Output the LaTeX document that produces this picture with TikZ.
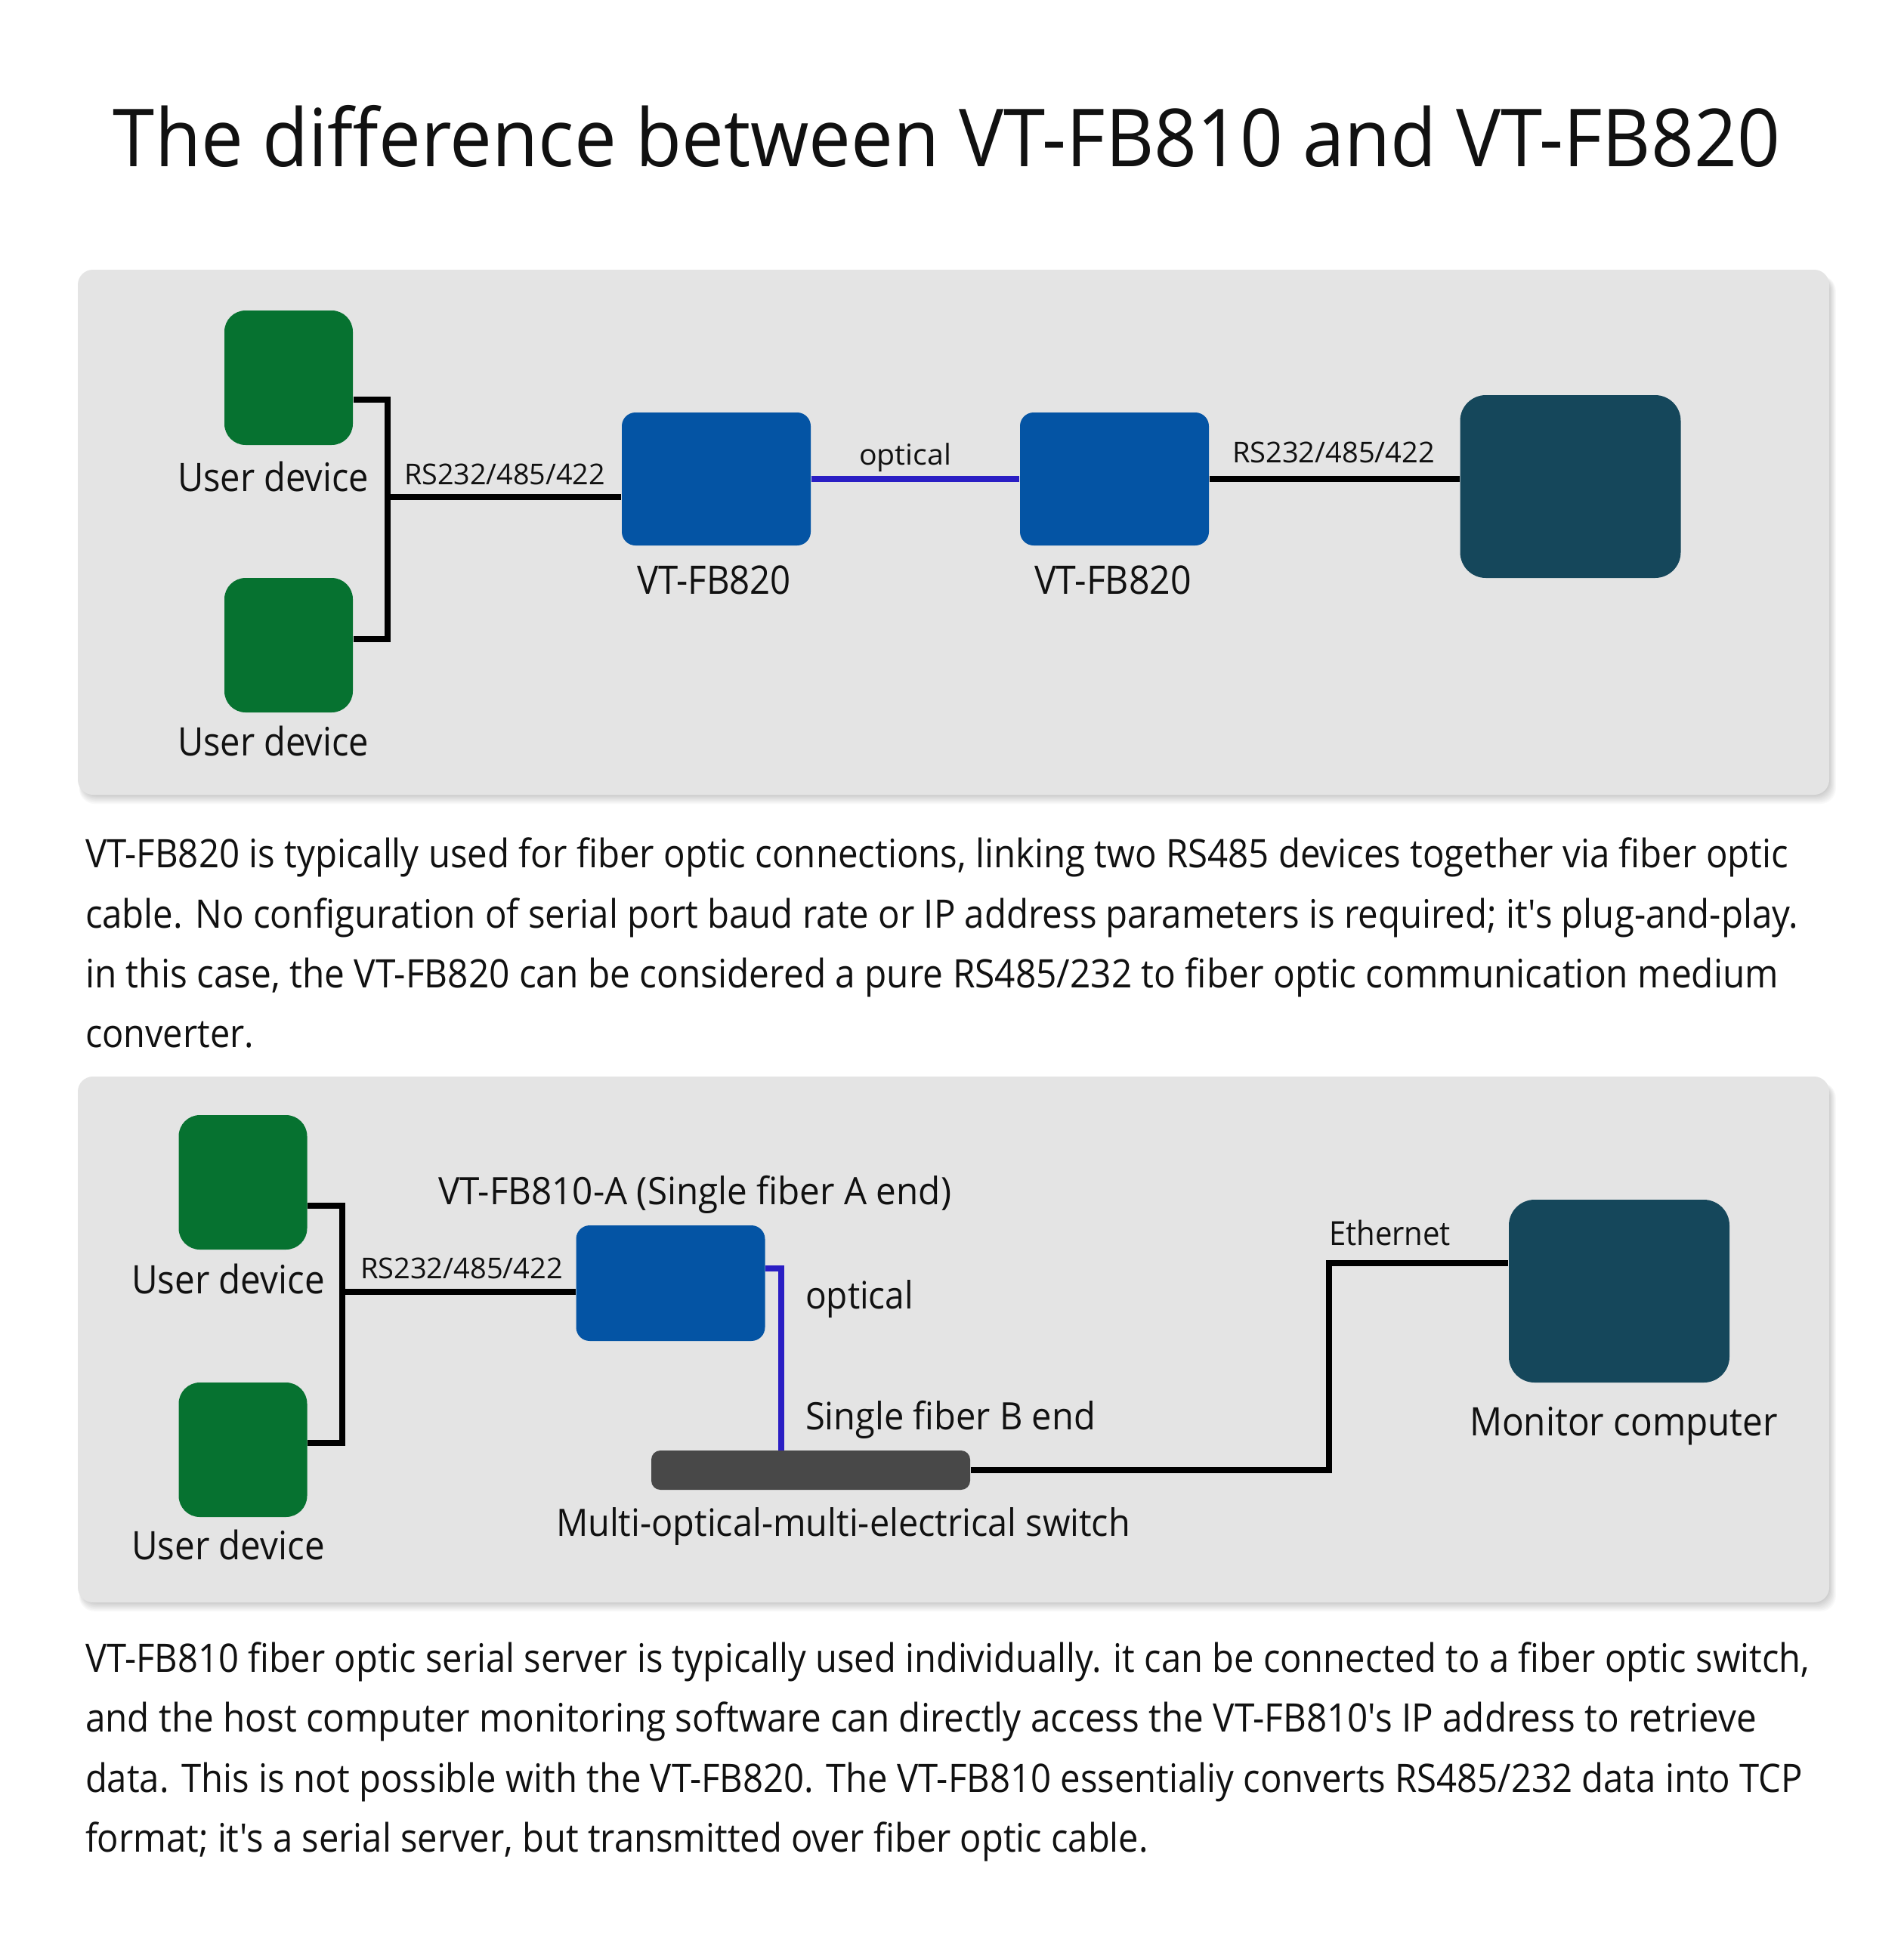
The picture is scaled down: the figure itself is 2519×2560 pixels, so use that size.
\documentclass[tikz,border=0pt]{standalone}
\usepackage{fontspec}
\usepackage{graphicx}
\usetikzlibrary{calc}
\newfontfamily\lab{Open Sans}[Ligatures=TeXOff]
\definecolor{devgreen}{RGB}{6,114,48}
\definecolor{convblue}{RGB}{4,84,164}
\definecolor{hostteal}{RGB}{21,71,91}
\definecolor{switchgray}{RGB}{72,72,72}
\definecolor{fibercol}{RGB}{42,30,196}
\definecolor{panelgray}{RGB}{228,228,228}
\definecolor{inkcol}{RGB}{17,17,17}
\newsavebox\fitbox
\newcommand\fitw[2]{\sbox\fitbox{#2}\pgfmathsetmacro\fitf{#1*0.25pt/\the\wd\fitbox}\scalebox{\fitf}[1]{\usebox\fitbox}}
\tikzset{
  dev/.style={fill=devgreen, rounded corners=7pt, minimum width=42.5pt, minimum height=44.5pt, inner sep=0pt},
  conv/.style={fill=convblue, rounded corners=4.5pt, minimum width=62.5pt, minimum height=44pt, inner sep=0pt},
  host/.style={fill=hostteal, rounded corners=8.5pt, minimum width=73pt, minimum height=60.5pt, inner sep=0pt},
  swbar/.style={fill=switchgray, rounded corners=3pt, minimum width=105.5pt, minimum height=13pt, inner sep=0pt},
  wire/.style={draw=black, line width=2pt},
  fiber/.style={draw=fibercol, line width=2pt},
  txt/.style={inner sep=0pt, outer sep=0pt, text=inkcol},
  ltitle/.style={txt, font=\lab\fontsize{26.5}{30}\selectfont},
  lbig/.style={txt, font=\lab\fontsize{13}{16}\selectfont},
  lmid/.style={txt, font=\lab\fontsize{12.5}{15}\selectfont},
  leth/.style={txt, font=\lab\fontsize{11}{13}\selectfont},
  lsmall/.style={txt, font=\lab\fontsize{9.5}{12}\selectfont},
  para/.style={txt, font=\lab\fontsize{13}{16}\selectfont, anchor=base west},
  panel/.style={fill=panelgray, rounded corners=5pt},
}
\begin{document}
\begin{tikzpicture}[x=0.25pt, y=-0.25pt]
\path[use as bounding box, fill=white] (0,0) rectangle (2519,2560);

% title
\node[ltitle, anchor=base] (title) at (1253,220) {\fitw{2206}{The difference between VT-FB810 and VT-FB820}};

% ---------- panel 1 ----------
\foreach \i in {1,...,8} {
  \fill[black, opacity=0.022, rounded corners=5pt] (103+5-\i*0.4, 357+8) rectangle (2421+\i*1.1, 1052+\i*1.5);
}
\path[panel] (103,357) rectangle (2421,1052);

\node[dev] (ud1) at (382,500) {};
\node[dev] (ud2) at (382,854) {};
\node[conv] (fbA) at (948,634) {};
\node[conv] (fbB) at (1475,634) {};
\node[host] (host1) at (2078.5,644) {};

\node[lbig, anchor=base] (lud1) at (361.5,650) {\fitw{253}{User device}};
\node[lbig, anchor=base] (lud2) at (361.5,1000) {\fitw{253}{User device}};
\node[lsmall, anchor=base] (rs1) at (668,641) {\fitw{266}{RS232/485/422}};
\node[lsmall, anchor=base] (opt1) at (1198,615) {\fitw{122}{optical}};
\node[lbig, anchor=base] (vtA) at (945,786) {\fitw{204}{VT-FB820}};
\node[lbig, anchor=base] (vtB) at (1473,786) {\fitw{208}{VT-FB820}};
\node[lsmall, anchor=base] (rs2) at (1765,612) {\fitw{268}{RS232/485/422}};

\coordinate (j1) at (513,658);
\draw[wire] ($(ud1.east)+(0,29)$) -| (j1) |- ($(ud2.east)+(0,-8)$);
\draw[wire] (j1) -- (j1 -| fbA.west);
\draw[fiber] (fbA.east) -- (fbB.west);
\draw[wire] (fbB.east) -- (fbB.east -| host1.west);

% ---------- paragraph 1 ----------
\node[para] (p1a) at (113,1148) {\fitw{2254}{VT-FB820 is typically used for fiber optic connections, linking two RS485 devices together via fiber optic}};
\node[para] (p1b) at (113,1228) {\fitw{2267}{cable. No configuration of serial port baud rate or IP address parameters is required; it's plug-and-play.}};
\node[para] (p1c) at (113,1307) {\fitw{2241}{in this case, the VT-FB820 can be considered a pure RS485/232 to fiber optic communication medium}};
\node[para] (p1d) at (113,1386) {\fitw{223}{converter.}};

% ---------- panel 2 ----------
\foreach \i in {1,...,8} {
  \fill[black, opacity=0.022, rounded corners=5pt] (103+5-\i*0.4, 1425+8) rectangle (2421+\i*1.1, 2121+\i*1.5);
}
\path[panel] (103,1425) rectangle (2421,2121);

\node[dev] (ud3) at (321.5,1565) {};
\node[dev] (ud4) at (321.5,1919) {};
\node[conv, minimum height=38.25pt] (fb810) at (887.5,1698.5) {};
\node[swbar] (sw) at (1073,1946) {};
\node[host] (mc) at (2143,1709) {};

\node[lbig, anchor=base] (lud3) at (302,1712) {\fitw{256}{User device}};
\node[lbig, anchor=base] (lud4) at (302,2064) {\fitw{256}{User device}};
\node[lmid, anchor=base] (vt810) at (919.5,1594) {\fitw{679}{VT-FB810-A (Single fiber A end)}};
\node[lsmall, anchor=base] (rs3) at (611,1692) {\fitw{268}{RS232/485/422}};
\node[lmid, anchor=base west] (opt2) at (1066,1732) {\fitw{143}{optical}};
\node[lmid, anchor=base west] (sfb) at (1066,1892) {\fitw{384}{Single fiber B end}};
\node[lmid, anchor=base] (swl) at (1116,2033) {\fitw{760}{Multi-optical-multi-electrical switch}};
\node[leth, anchor=base] (eth) at (1839.5,1648) {\fitw{161}{Ethernet}};
\node[lbig, anchor=base] (mcl) at (2149,1900) {\fitw{408}{Monitor computer}};

\coordinate (j2) at (453,1710);
\draw[wire] ($(ud3.east)+(0,31)$) -| (j2) |- ($(ud4.east)+(0,-9)$);
\draw[wire] (j2) -- (j2 -| fb810.west);
\coordinate (fbend) at (1034,1920);
\draw[fiber, line width=1.8pt] ($(fb810.east)+(0,-19.5)$) -| (fbend);
\coordinate (ej) at (1759,1672);
\draw[wire] (sw.east) -| (ej) -- (ej -| mc.west);

% ---------- paragraph 2 ----------
\node[para] (p2a) at (113,2213) {\fitw{2282}{VT-FB810 fiber optic serial server is typically used individually. it can be connected to a fiber optic switch,}};
\node[para] (p2b) at (113,2292) {\fitw{2212}{and the host computer monitoring software can directly access the VT-FB810's IP address to retrieve}};
\node[para] (p2c) at (113,2372) {\fitw{2273}{data. This is not possible with the VT-FB820. The VT-FB810 essentialiy converts RS485/232 data into TCP}};
\node[para] (p2d) at (113,2451) {\fitw{1407}{format; it's a serial server, but transmitted over fiber optic cable.}};
\end{tikzpicture}
\end{document}
